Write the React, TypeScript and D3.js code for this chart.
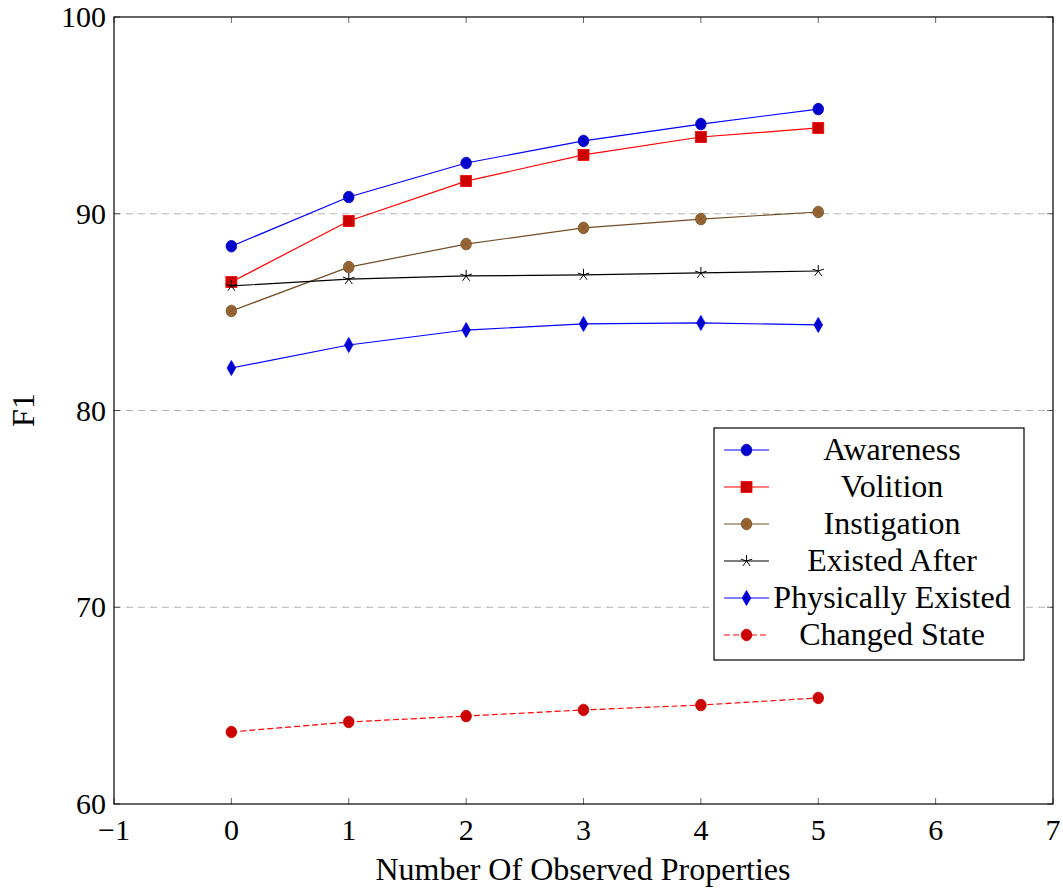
import React from "react";
import * as d3 from "d3";

const xs = [0, 1, 2, 3, 4, 5];
const awareness = [88.35, 90.85, 92.58, 93.7, 94.56, 95.32];
const volition = [86.53, 89.63, 91.66, 92.99, 93.9, 94.36];
const instigation = [85.06, 87.29, 88.46, 89.28, 89.73, 90.09];
const existedAfter = [86.33, 86.68, 86.84, 86.89, 86.99, 87.09];
const physicallyExisted = [82.16, 83.33, 84.09, 84.4, 84.45, 84.35];
const changedState = [63.66, 64.17, 64.47, 64.78, 65.03, 65.39];
const xTicks = [-1, 0, 1, 2, 3, 4, 5, 6, 7];
const yTicks = [60, 70, 80, 90, 100];
const gridTicks = [70, 80, 90];

const seriesNames = ["Awareness", "Volition", "Instigation", "Existed After", "Physically Existed", "Changed State"];
const seriesData = [awareness, volition, instigation, existedAfter, physicallyExisted, changedState];
const lineColors = ["#0000ff", "#ff0000", "#734d26", "#000000", "#0000ff", "#ff0000"];
const fillColors = ["#0000cc", "#cc0000", "#996633", "#000000", "#0000cc", "#cc0000"];
const markers = ["circle", "square", "otimes", "star", "diamond", "circle"];
const dashes = [null, null, null, null, null, "6,3"];

const L = 114, R = 1053, T = 17, B = 804;
const FONT = "'Liberation Serif', 'DejaVu Serif', serif";

function Marker({ type, x, y, stroke, fill }: any) {
  if (type === "circle") return <ellipse cx={x} cy={y} rx={5.3} ry={5.8} fill={fill} stroke={fill} strokeWidth={0.8} />;
  if (type === "square") return <rect x={x - 5.5} y={y - 5.5} width={11} height={11} fill={fill} stroke={stroke} strokeWidth={0.8} />;
  if (type === "otimes") {
    const r = 5.3;
    const d = r * 0.7;
    return (
      <g>
        <ellipse cx={x} cy={y} rx={r} ry={5.8} fill={fill} stroke={stroke} strokeWidth={0.8} />
        <path d={`M${x - d},${y - d}L${x + d},${y + d}M${x - d},${y + d}L${x + d},${y - d}`} stroke={stroke} strokeWidth={0.7} />
      </g>
    );
  }
  if (type === "star") {
    const r = 6;
    const pts = d3.range(5).map((i) => {
      const a = -Math.PI / 2 + (i * 2 * Math.PI) / 5;
      return [x + r * Math.cos(a), y + r * Math.sin(a)];
    });
    return (
      <path d={pts.map((p) => `M${x},${y}L${p[0]},${p[1]}`).join("")} stroke={stroke} strokeWidth={1} fill="none" />
    );
  }
  if (type === "diamond") {
    return <path d={`M${x},${y - 7.5}L${x + 4.3},${y}L${x},${y + 7.5}L${x - 4.3},${y}Z`} fill={fill} stroke={stroke} strokeWidth={0.8} />;
  }
  return null;
}

export default function App() {
  const xScale = d3.scaleLinear().domain([-1, 7]).range([L, R]);
  const yScale = d3.scaleLinear().domain([60, 100]).range([B, T]);
  const line = d3
    .line<number>()
    .x((_, i) => xScale(xs[i]))
    .y((d) => yScale(d));

  const legX = 714, legY = 428, legW = 310, legH = 232;
  const rowH = 37;

  return (
    <svg width={1063} height={888} style={{ position: "absolute", left: 0, top: 0, background: "#fff" }} fontFamily={FONT}>
      <rect x={0} y={0} width={1063} height={888} fill="#fff" />
      {gridTicks.map((t) => (
        <line key={t} x1={L} x2={R} y1={yScale(t)} y2={yScale(t)} stroke="#b3b3b3" strokeWidth={1} strokeDasharray="7,5" />
      ))}
      {xTicks.map((t) => (
        <g key={"xt" + t}>
          <line x1={xScale(t)} x2={xScale(t)} y1={B} y2={B - 6} stroke="#000" strokeWidth={0.6} />
          <line x1={xScale(t)} x2={xScale(t)} y1={T} y2={T + 6} stroke="#000" strokeWidth={0.6} />
          <text x={xScale(t)} y={840} fontSize={30} textAnchor="middle">
            {t < 0 ? "\u2212" + Math.abs(t) : t}
          </text>
        </g>
      ))}
      {yTicks.map((t) => (
        <g key={"yt" + t}>
          <line x1={L} x2={L + 6} y1={yScale(t)} y2={yScale(t)} stroke="#000" strokeWidth={0.6} />
          <line x1={R} x2={R - 6} y1={yScale(t)} y2={yScale(t)} stroke="#000" strokeWidth={0.6} />
          <text x={106} y={yScale(t) + 10} fontSize={30} textAnchor="end">
            {t}
          </text>
        </g>
      ))}
      <rect x={L} y={T} width={R - L} height={B - T} fill="none" stroke="#000" strokeWidth={1.2} />
      {seriesData.map((data, si) => (
        <g key={seriesNames[si]}>
          <path d={line(data) || ""} fill="none" stroke={lineColors[si]} strokeWidth={1.2} strokeDasharray={dashes[si] || undefined} />
          {data.map((v, i) => (
            <Marker key={i} type={markers[si]} x={xScale(xs[i])} y={yScale(v)} stroke={lineColors[si]} fill={fillColors[si]} />
          ))}
        </g>
      ))}
      <g>
        <rect x={legX} y={legY} width={legW} height={legH} fill="#fff" stroke="#000" strokeWidth={1.2} />
        {seriesNames.map((name, i) => {
          const cy = legY + 22 + i * rowH;
          return (
            <g key={name}>
              <line x1={724} x2={769} y1={cy} y2={cy} stroke={lineColors[i]} strokeWidth={1.2} strokeDasharray={dashes[i] || undefined} />
              <Marker type={markers[i]} x={746.5} y={cy} stroke={lineColors[i]} fill={fillColors[i]} />
              <text x={892} y={cy + 10} fontSize={32} textAnchor="middle">
                {name}
              </text>
            </g>
          );
        })}
      </g>
      <text x={583} y={880} fontSize={32} textAnchor="middle">
        Number Of Observed Properties
      </text>
      <text transform="translate(34,410) rotate(-90)" fontSize={32} textAnchor="middle">
        F1
      </text>
    </svg>
  );
}
